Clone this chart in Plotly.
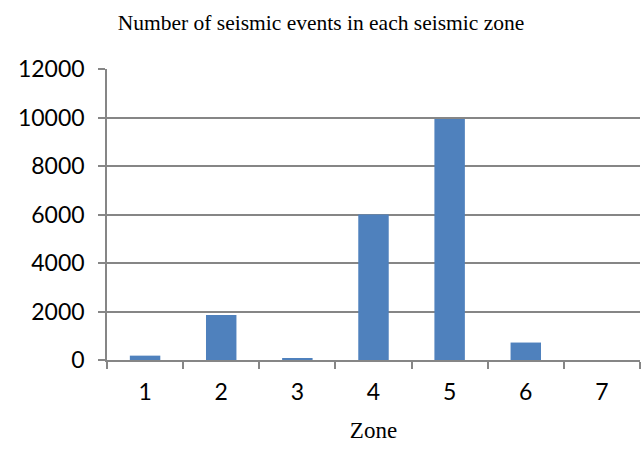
import plotly.graph_objects as go

zones = ["1", "2", "3", "4", "5", "6", "7"]
events = [180, 1860, 50, 6000, 9935, 720, 0]
y_ticks = [0, 2000, 4000, 6000, 8000, 10000, 12000]
y_tick_labels = ["0", "2000", "4000", "6000", "8000", "10000", "12000"]

fig = go.Figure(go.Bar(
    x=zones, y=events,
    marker=dict(color="#4F81BD", line=dict(width=0)),
))

axis_col = "#868686"
fig.update_layout(
    width=642, height=451,
    margin=dict(l=107, r=2, t=69, b=91),
    paper_bgcolor="white", plot_bgcolor="white",
    showlegend=False,
    bargap=0.6,
    title=dict(text="Number of seismic events in each seismic zone",
               x=0.5, xanchor="center", y=0.950, yanchor="middle",
               font=dict(family="Liberation Serif", size=21.5, color="black")),
    xaxis=dict(
        title=dict(text="Zone", font=dict(family="Liberation Serif", size=23, color="black"), standoff=18),
        tickfont=dict(family="Lato", size=23, color="black"),
        showline=True, linecolor=axis_col, linewidth=1.5,
        ticks="outside", tickson="boundaries", ticklen=7, tickcolor=axis_col, tickwidth=1.5,
        showgrid=False, ticklabelstandoff=11,
    ),
    yaxis=dict(
        range=[0, 12000], tickvals=y_ticks, ticktext=y_tick_labels,
        tickfont=dict(family="Lato", size=23, color="black"),
        showline=True, linecolor=axis_col, linewidth=1.5,
        ticks="outside", ticklen=7, tickcolor=axis_col, tickwidth=1.5,
        showgrid=True, gridcolor=axis_col, gridwidth=1.5,
        zeroline=False, ticklabelstandoff=9,
    ),
)

fig.write_html("out.html")
